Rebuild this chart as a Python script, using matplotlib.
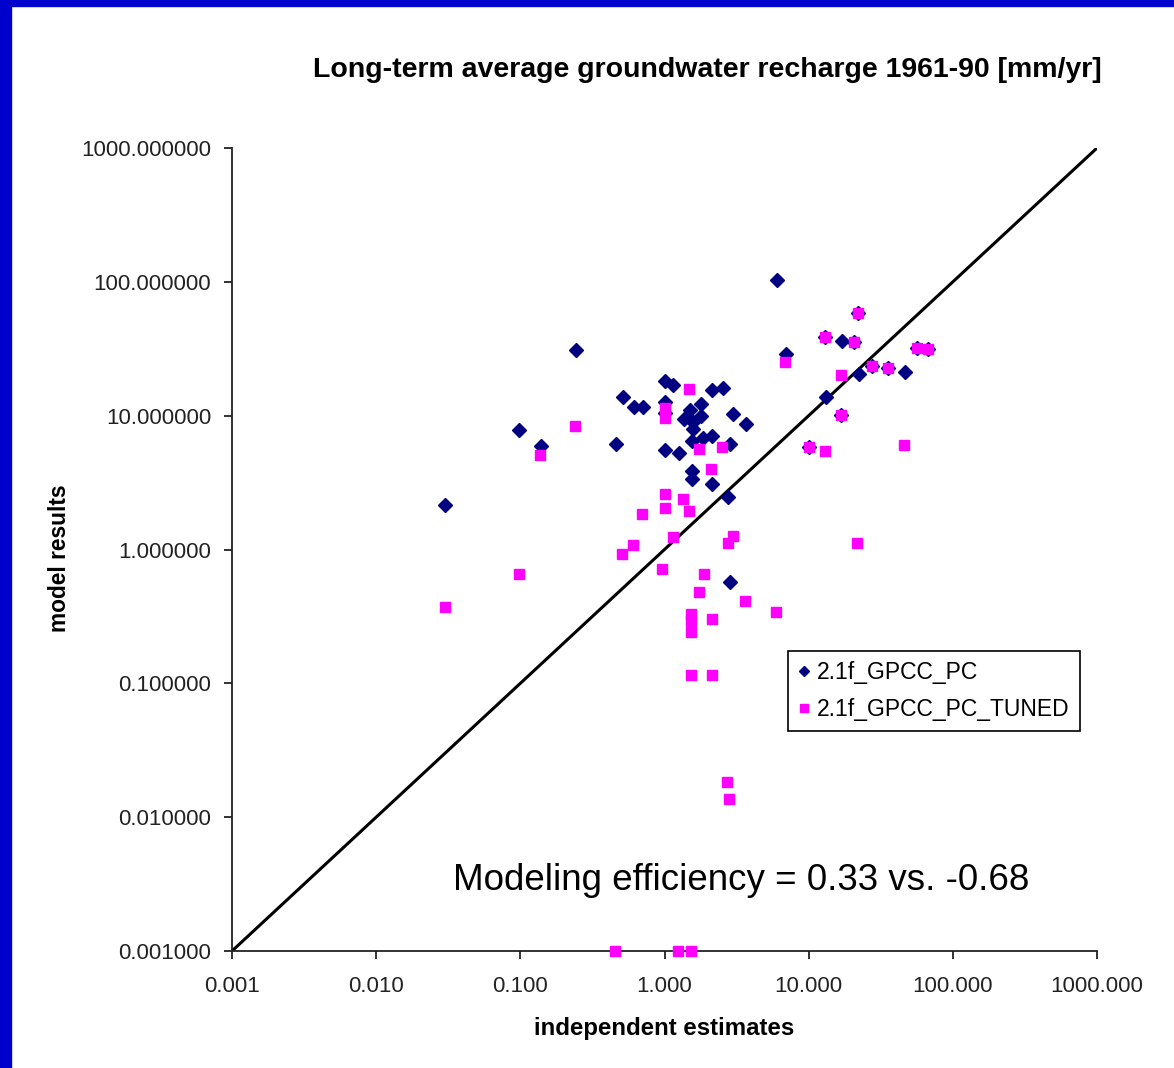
import matplotlib
matplotlib.use("Agg")
import matplotlib.pyplot as plt
from matplotlib.patches import Rectangle
from matplotlib.ticker import FixedLocator, FuncFormatter, NullLocator

plt.rcParams['font.family'] = ['Liberation Sans', 'DejaVu Sans']

# -----------------------------------------------
# Data
# -----------------------------------------------
pc_x = [0.030, 0.098, 0.139, 0.243, 0.46, 0.515, 0.61, 0.71,
        1.0, 1.15, 1.0, 1.0, 2.12, 2.53, 1.79, 1.50, 1.79, 1.37,
        1.57, 1.57, 3.0, 3.67, 1.86, 2.13, 1.55, 2.85, 1.0, 1.26,
        1.55, 1.55, 2.12, 2.77, 2.83, 6.0, 6.93,
        21.9, 13.0, 17.0, 20.6, 56.1, 67.0, 27.5, 35.7, 46.8,
        22.2, 13.1, 16.8, 10.0]
pc_y = [2.15, 7.8, 5.9, 31.0, 6.1, 13.8, 11.6, 11.6,
        18.2, 16.9, 12.7, 10.5, 15.6, 16.0, 12.2, 11.0, 10.0, 9.4,
        9.0, 7.9, 10.3, 8.6, 6.8, 7.1, 6.5, 6.1, 5.5, 5.3,
        3.86, 3.34, 3.07, 2.48, 0.57, 103.0, 28.7,
        58.2, 38.9, 35.9, 35.5, 32.2, 31.3, 23.5, 22.8, 21.1,
        20.5, 13.7, 10.1, 5.8]

tuned_x = [0.030, 0.098, 0.138, 0.239, 0.51, 0.60, 0.70, 0.96,
           1.0, 1.0, 1.0, 1.0, 1.14, 1.35, 1.49, 1.49, 1.74, 2.49,
           2.10, 2.97, 2.77, 1.87, 1.74, 3.63, 5.93, 1.53, 1.53, 1.53,
           2.12, 1.53, 2.12, 2.73, 2.80, 0.454, 1.25, 1.53,
           6.9, 21.9, 13.0, 20.6, 56.1, 67.0, 27.5, 35.7, 16.8,
           16.8, 10.0, 13.0, 46.0, 21.7]
tuned_y = [0.37, 0.656, 5.1, 8.4, 0.92, 1.08, 1.83, 0.72,
           2.58, 2.03, 11.4, 9.6, 1.23, 2.37, 1.95, 15.7, 5.6, 5.8,
           4.0, 1.26, 1.11, 0.66, 0.48, 0.41, 0.34, 0.33, 0.29, 0.24,
           0.30, 0.115, 0.115, 0.0182, 0.0137, 0.001, 0.001, 0.001,
           25.3, 58.2, 38.9, 35.5, 32.2, 31.3, 23.5, 22.8, 20.2,
           10.1, 5.8, 5.4, 6.0, 1.11]

decades = [0.001, 0.01, 0.1, 1, 10, 100, 1000]

# -----------------------------------------------
# Figure
# -----------------------------------------------
fig = plt.figure(figsize=(11.74, 10.68), dpi=100)
fig.patch.set_facecolor("white")

# blue slide frame on the left and top
fig.patches.append(Rectangle((0, 0), 11 / 1174, 1, transform=fig.transFigure,
                             color="#0000cc", zorder=0))
fig.patches.append(Rectangle((0, 1 - 6 / 1068), 1, 6 / 1068, transform=fig.transFigure,
                             color="#0000cc", zorder=0))

ax = fig.add_axes([232 / 1174, 1 - 951 / 1068, 865 / 1174, 803 / 1068])
ax.set_xscale("log")
ax.set_yscale("log")
ax.set_xlim(0.001, 1000)
ax.set_ylim(0.001, 1000)

# 1:1 line
ax.plot([0.001, 1000], [0.001, 1000], color="black", lw=2.2, zorder=2)

ax.plot(pc_x, pc_y, linestyle="none", marker="D", ms=7, color="#000080",
        mec="#000080", label="2.1f_GPCC_PC", zorder=3, clip_on=False)
ax.plot(tuned_x, tuned_y, linestyle="none", marker="s", ms=7.2, color="#ff00ff",
        mec="#ff00ff", label="2.1f_GPCC_PC_TUNED", zorder=4, clip_on=False)

for side in ["top", "right"]:
    ax.spines[side].set_visible(False)
for side in ["left", "bottom"]:
    ax.spines[side].set_linewidth(1.3)
    ax.spines[side].set_color("#222222")

ax.xaxis.set_major_locator(FixedLocator(decades))
ax.yaxis.set_major_locator(FixedLocator(decades))
ax.xaxis.set_minor_locator(NullLocator())
ax.yaxis.set_minor_locator(NullLocator())
ax.xaxis.set_major_formatter(FuncFormatter(lambda v, p: "%.3f" % v))
ax.yaxis.set_major_formatter(FuncFormatter(lambda v, p: "%.6f" % v))
ax.tick_params(axis="x", direction="out", length=6, width=1.3, color="#222222",
               labelsize=16, pad=12, labelcolor="#222222")
ax.tick_params(axis="y", direction="out", length=6, width=1.3, color="#222222",
               labelsize=16, pad=9, labelcolor="#222222")

fig.text(707 / 1174, 1 - 70 / 1068, "Long-term average groundwater recharge 1961-90 [mm/yr]",
         ha="center", va="center", fontsize=20.5, fontweight="bold")
fig.text(664 / 1174, 1 - 1028 / 1068, "independent estimates",
         ha="center", va="center", fontsize=17.3, fontweight="bold")
fig.text(60 / 1174, 1 - 558 / 1068, "model results", rotation=90,
         ha="center", va="center", fontsize=16.4, fontweight="bold")
fig.text(741 / 1174, 1 - 880 / 1068, "Modeling efficiency = 0.33 vs. -0.68",
         ha="center", va="center", fontsize=26.5)

leg = ax.legend(loc="upper left", bbox_to_anchor=(0.643, 0.3736), borderaxespad=0,
                fancybox=False, edgecolor="black", framealpha=1, fontsize=16.5,
                handlelength=0.5, handletextpad=0.3, borderpad=0.45,
                labelspacing=0.6, markerscale=0.75)
leg.get_frame().set_linewidth(1.2)

fig.savefig("out.png", dpi=100, facecolor="white")
